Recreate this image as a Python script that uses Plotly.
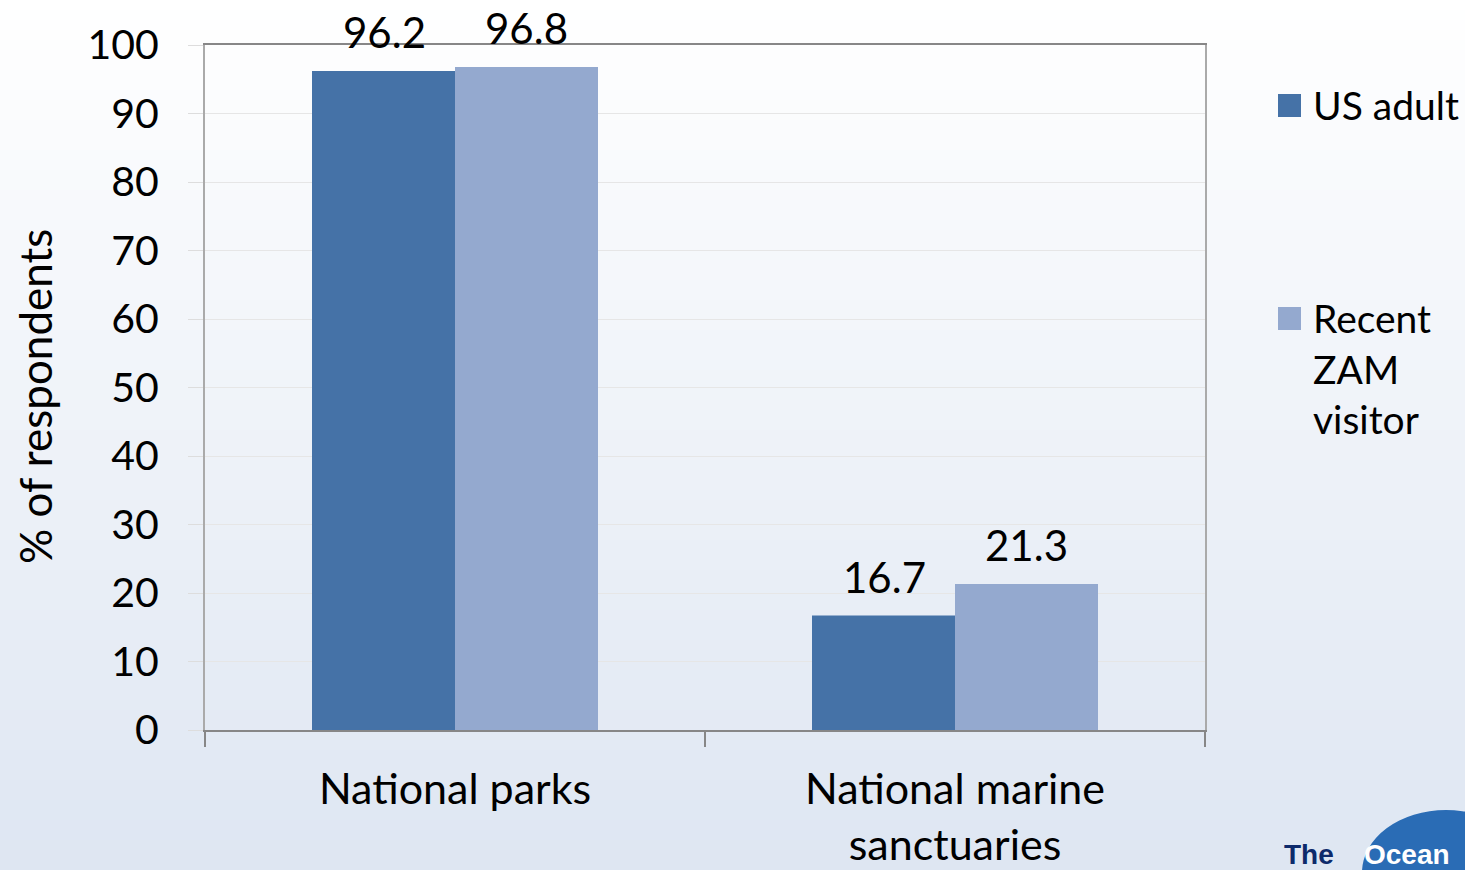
import plotly.graph_objects as go

categories = ["National parks", "National marine<br>sanctuaries"]
us_adult = [96.2, 16.7]
zam_visitor = [96.8, 21.3]
series_names = ["US adult", "Recent<br>ZAM<br>visitor"]
y_ticks = [0, 10, 20, 30, 40, 50, 60, 70, 80, 90, 100]

FONT = "Lato, Open Sans, sans-serif"
C1 = "#4572A7"
C2 = "#94A9CF"
colors = [C1, C2]

# plot area in pixels: x 205..1205, y 45..730
def px(x):
    return (x - 205) / 1000

def py(y):
    return (730 - y) / 685

fig = go.Figure()
fig.add_trace(go.Bar(x=categories, y=us_adult, name="US adult", marker_color=C1,
                     marker_line_width=0, showlegend=False))
fig.add_trace(go.Bar(x=categories, y=zam_visitor, name="Recent ZAM visitor", marker_color=C2,
                     marker_line_width=0, showlegend=False))

# data labels
for vals, shift in ((us_adult, -71), (zam_visitor, 71)):
    for c, v in zip(categories, vals):
        fig.add_annotation(x=c, y=v, xref="x", yref="y", text=f"{v}", showarrow=False,
                           xshift=shift, yanchor="bottom", yshift=12,
                           font=dict(family=FONT, size=42, color="black"))

# y-axis title
fig.add_annotation(x=px(35), y=py(397), xref="paper", yref="paper", text="% of respondents",
                   textangle=-90, showarrow=False, xanchor="center", yanchor="middle",
                   font=dict(family=FONT, size=44, color="black"))

shapes = []
# gradient background
N = 87
for i in range(N):
    t = (i + 0.5) / N
    r = round(255 - 33 * t)
    g = round(255 - 25 * t)
    b = round(255 - 13 * t)
    shapes.append(dict(type="rect", xref="paper", yref="paper", x0=px(-10), x1=px(1480),
                       y0=py((i + 1) * 10 + 1), y1=py(i * 10), fillcolor=f"rgb({r},{g},{b})",
                       line_width=0, layer="below"))

# manual legend (large square swatches like the reference)
legend_tops = [94, 307]
for name, col, top in zip(series_names, colors, legend_tops):
    shapes.append(dict(type="rect", xref="paper", yref="paper", x0=px(1278), x1=px(1301),
                       y0=py(top + 23), y1=py(top), fillcolor=col, line_width=0))
    fig.add_annotation(x=px(1311), y=py(top - 14), xref="paper", yref="paper", text=name,
                       showarrow=False, xanchor="left", yanchor="top", align="left",
                       font=dict(family=FONT, size=39, color="black"))

# logo approximation (bottom-right)
shapes.append(dict(type="circle", xref="paper", yref="paper",
                   x0=px(1362), x1=px(1530), y0=py(935), y1=py(810),
                   fillcolor="#2a6cb5", line_width=0, layer="above"))
fig.add_annotation(x=px(1282), y=py(872), xref="paper", yref="paper",
                   text="<b>The</b>", showarrow=False, xanchor="left", yanchor="bottom",
                   font=dict(family="Liberation Sans", size=28, color="#0d2a6b"))
fig.add_annotation(x=px(1362), y=py(872), xref="paper", yref="paper",
                   text="<b>Ocean</b>", showarrow=False, xanchor="left", yanchor="bottom",
                   font=dict(family="Liberation Sans", size=28, color="white"))

fig.update_layout(
    width=1465, height=870,
    margin=dict(l=205, r=260, t=45, b=140, pad=0, autoexpand=False),
    paper_bgcolor="white", plot_bgcolor="rgba(0,0,0,0)",
    barmode="group", bargap=0.428, bargroupgap=0,
    font=dict(family=FONT, size=42, color="black"),
    shapes=shapes,
    showlegend=False,
)
fig.update_xaxes(showline=True, linecolor="#878787", linewidth=2, mirror=True,
                 ticks="outside", tickson="boundaries", ticklen=15, tickwidth=2,
                 tickcolor="#878787", ticklabelstandoff=20, automargin=False,
                 tickfont=dict(family=FONT, size=43, color="black"), showgrid=False)
fig.update_yaxes(range=[0, 100], tickvals=y_ticks, showline=True, linecolor="#aaaaaa",
                 linewidth=2, mirror=True, ticks="outside", ticklen=15, tickwidth=1,
                 tickcolor="#dddddd", showgrid=True, gridcolor="#e6e6e6", gridwidth=1,
                 ticklabelstandoff=21, zeroline=False, automargin=False,
                 tickfont=dict(family=FONT, size=41, color="black"))

fig.write_html("out.html")
